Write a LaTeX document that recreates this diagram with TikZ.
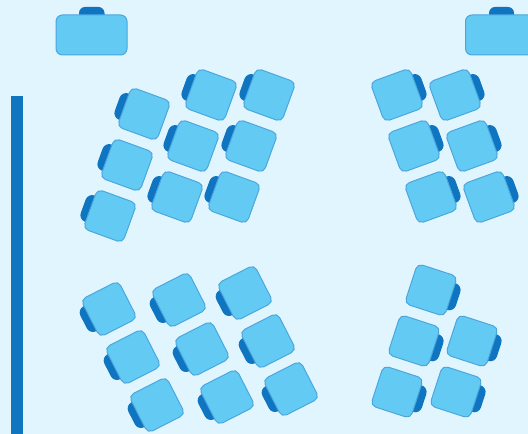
\documentclass[tikz,border=0pt]{standalone}
\definecolor{roombg}{HTML}{E1F5FE}
\definecolor{seatfill}{HTML}{63CBF3}
\definecolor{seatline}{HTML}{4BA6DE}
\definecolor{backdark}{HTML}{0F75C1}
\tikzset{
  seatbody/.style={fill=seatfill,draw=seatline,line width=1pt,rounded corners=5.5pt},
  seatback/.style={fill=backdark,rounded corners=7pt},
  pics/lchair/.style={code={
    \path[seatback] (-28.5,-14) -- (-28.5,14) -- (-12,14) -- (-12,-14) -- cycle;
    \path[seatbody] (-21,-21) -- (-21,21) -- (21,21) -- (21,-21) -- cycle;
  }},
  pics/rchair/.style={code={
    \path[seatback] (28.5,-14) -- (28.5,14) -- (12,14) -- (12,-14) -- cycle;
    \path[seatbody] (-21,-21) -- (-21,21) -- (21,21) -- (21,-21) -- cycle;
  }}
}
\begin{document}
\begin{tikzpicture}[x=1pt,y=1pt]
\useasboundingbox (0,0) rectangle (528,434);
\clip (0,0) rectangle (528,434);
\fill[roombg] (0,0) rectangle (528,434);
% wall bar
\fill[backdark] (11,0) rectangle (23,338);
% desks
\fill[backdark,rounded corners=6pt] (79,427) rectangle (104.5,410);
\path[seatbody,rounded corners=6.5pt] (56,419) rectangle (127,379);
\fill[backdark,rounded corners=6pt] (489,427) rectangle (514,410);
\path[seatbody,rounded corners=6.5pt] (465.5,419) rectangle (537,379);
% top-left group
\foreach \p/\q in {144/114,211/95,269/95,127/165,193/146,251/146,110/216,177/197,234/197}
  \pic[rotate=-20] at (\p,{434-\q}) {lchair};
% top-right group
\foreach \p/\q in {397/95,455/95,414/146,472/146,431/197,489/197}
  \pic[rotate=20] at (\p,{434-\q}) {rchair};
% bottom-left group
\foreach \p/\q in {109/309,179/300,245/293,133/357,202/349,268/341,157/405,227/397,291/389}
  \pic[rotate=27] at (\p,{434-\q}) {lchair};
% bottom-right group
\foreach \p/\q in {431/290,414/341,472/341,397/392,456/392}
  \pic[rotate=-18] at (\p,{434-\q}) {rchair};
\end{tikzpicture}
\end{document}
